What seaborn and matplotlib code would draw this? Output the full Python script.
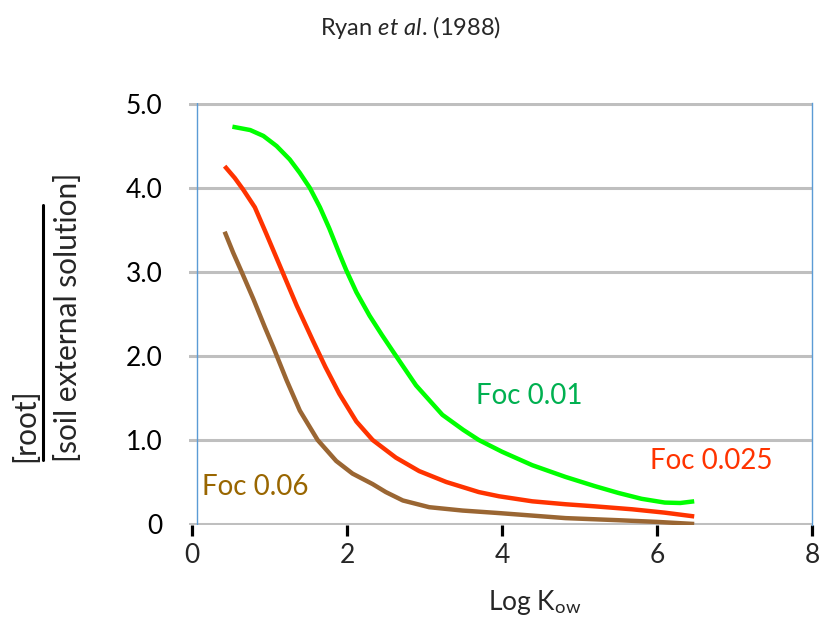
import matplotlib
matplotlib.use("Agg")
import matplotlib.pyplot as plt
from matplotlib.lines import Line2D
import seaborn as sns
import pandas as pd

# values (Log Kow vs root/soil solution ratio)
x_foc001 = [0.52, 0.75, 0.92, 1.09, 1.26, 1.39, 1.52, 1.65, 1.77, 1.90, 1.99, 2.12, 2.29,
            2.45, 2.61, 2.89, 3.23, 3.50, 3.70, 4.00, 4.39, 4.82, 5.20, 5.50, 5.80, 6.10,
            6.30, 6.48]
y_foc001 = [4.73, 4.69, 4.62, 4.50, 4.34, 4.18, 4.00, 3.77, 3.52, 3.22, 3.02, 2.76, 2.48,
            2.25, 2.03, 1.65, 1.30, 1.12, 1.00, 0.86, 0.70, 0.56, 0.45, 0.37, 0.30, 0.255,
            0.25, 0.27]
x_foc0025 = [0.42, 0.55, 0.66, 0.81, 0.96, 1.13, 1.35, 1.56, 1.72, 1.90, 2.12, 2.33, 2.63,
             2.93, 3.28, 3.70, 3.96, 4.39, 4.82, 5.20, 5.68, 6.10, 6.48]
y_foc0025 = [4.26, 4.12, 3.98, 3.77, 3.45, 3.08, 2.60, 2.18, 1.87, 1.55, 1.22, 1.00, 0.79,
             0.63, 0.50, 0.38, 0.33, 0.27, 0.235, 0.21, 0.175, 0.135, 0.09]
x_foc006 = [0.42, 0.53, 0.64, 0.79, 0.94, 1.05, 1.22, 1.39, 1.62, 1.86, 2.07, 2.33, 2.50,
            2.72, 3.06, 3.49, 3.96, 4.39, 4.82, 5.50, 6.00, 6.48]
y_foc006 = [3.48, 3.23, 3.00, 2.68, 2.34, 2.10, 1.71, 1.35, 1.00, 0.75, 0.60, 0.475, 0.38,
            0.28, 0.20, 0.16, 0.13, 0.10, 0.07, 0.045, 0.025, 0.0]

series = [
    ("Foc 0.01", x_foc001, y_foc001, "#00ff00", "#00b050", (3.66, 1.43)),
    ("Foc 0.025", x_foc0025, y_foc0025, "#ff3300", "#ff3300", (5.91, 0.66)),
    ("Foc 0.06", x_foc006, y_foc006, "#9a6633", "#996600", (0.125, 0.345)),
]
y_ticks = [0, 1, 2, 3, 4, 5]
y_ticklabels = ["0", "1.0", "2.0", "3.0", "4.0", "5.0"]
x_ticks = [0, 2, 4, 6, 8]

sns.set_style("white")
plt.rcParams["font.family"] = ["Lato", "DejaVu Sans"]
plt.rcParams["mathtext.fontset"] = "custom"
plt.rcParams["mathtext.rm"] = "Lato"
plt.rcParams["mathtext.it"] = "Lato:italic"

fig = plt.figure(figsize=(8.22, 6.17), dpi=100)
ax = fig.add_axes([189 / 822, 1 - 525 / 617, 623 / 822, 422 / 617])

for name, xs, ys, lc, tc, pos in series:
    df = pd.DataFrame({"x": xs, "y": ys})
    sns.lineplot(data=df, x="x", y="y", sort=False, estimator=None, color=lc,
                 lw=3.2, ax=ax, zorder=3, solid_joinstyle="round", solid_capstyle="butt")
    ax.text(pos[0], pos[1], name, color=tc, fontsize=20, ha="left", va="baseline")

ax.set_xlim(-0.04, 8.0)
ax.set_ylim(-0.012, 5.012)
ax.set_yticks(y_ticks)
ax.set_yticklabels(y_ticklabels)
ax.set_xticks(x_ticks)
ax.yaxis.grid(True, color="#bfbfbf", lw=2.2, zorder=1)
ax.xaxis.grid(False)
ax.set_axisbelow(True)
for s in ["top", "bottom", "left"]:
    ax.spines[s].set_visible(False)
ax.spines["right"].set_color("#5b9bd5")
ax.spines["right"].set_linewidth(1)
ax.axvline(0.06, color="#5b9bd5", lw=1, zorder=2)

ax.tick_params(axis="y", length=0, pad=19, labelsize=19, colors="black")
ax.tick_params(axis="x", direction="out", length=8, width=2.3, color="black",
               pad=5, labelsize=19, bottom=True)

ax.set_xlabel(r"Log K$_{\mathrm{ow}}$", fontsize=19)
ax.xaxis.set_label_coords(0.555, -0.15)
ax.set_ylabel("")

# fraction-style y label
fig.text(25 / 822, 1 - 462 / 617, "[root]", rotation=90, ha="center", va="bottom",
         fontsize=21.5)
fig.text(68 / 822, 1 - 462 / 617, "[soil external solution]", rotation=90,
         ha="center", va="bottom", fontsize=21.5)
fig.add_artist(Line2D([43 / 822, 43 / 822], [1 - 205 / 617, 1 - 460 / 617],
                      color="black", lw=2.2))

fig.text(0.5, 1 - 35 / 617, r"Ryan $\mathit{et\ al}$. (1988)", ha="center",
         va="baseline", fontsize=17)

fig.savefig("out.png", dpi=100)
